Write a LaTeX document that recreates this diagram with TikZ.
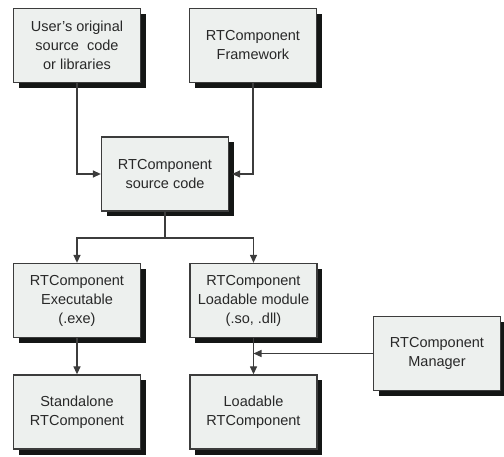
\documentclass[tikz,border=0pt]{standalone}
\usepackage{fontspec}
\setmainfont{Liberation Sans}
\usetikzlibrary{arrows.meta,shadows}
\definecolor{boxfill}{RGB}{237,240,238}
\definecolor{edge}{RGB}{60,60,60}
\definecolor{ink}{RGB}{40,40,40}
\definecolor{shade}{RGB}{20,22,21}
\tikzset{
  block/.style={draw=edge, line width=1.3pt, fill=boxfill,
    minimum width=127pt, minimum height=74pt, inner sep=2pt,
    align=center, text=ink,
    font=\fontsize{14.5}{19}\selectfont,
    drop shadow={shadow xshift=5pt, shadow yshift=-5.5pt,
      fill=shade, opacity=1}},
  link/.style={draw=edge, line width=1.3pt},
  flow/.style={link, -{Triangle[length=8pt,width=7pt]}}
}
\begin{document}
\begin{tikzpicture}[x=1pt,y=-1pt]
\useasboundingbox (0,0) rectangle (504,457);
% sources
\node[block] (user) at (77,45.5) {User's original\\source\ \ code\\or libraries};
\node[block] (fw) at (253,45.5) {RTComponent\\Framework};
\node[block] (src) at (165,174) {RTComponent\\source code};
% build products
\node[block] (exe) at (77,300.5) {RTComponent\\Executable\\(.exe)};
\node[block] (mod) at (253.5,300.5) {RTComponent\\Loadable module\\(.so, .dll)};
% runtime forms
\node[block] (alone) at (77,412) {Standalone\\RTComponent};
\node[block] (load) at (253.5,412) {Loadable\\RTComponent};
\node[block] (mgr) at (437,353.5) {RTComponent\\Manager};
% junctions
\coordinate (split) at (165,238);
\coordinate (join) at (253.5,353.5);
% connectors
\draw[flow] (user.south) |- (src.west);
\draw[flow] (fw.south) |- ([xshift=3pt]src.east);
\draw[link] (src.south) -- (split);
\draw[flow] (split) -| (exe.north);
\draw[flow] (split) -| (mod.north);
\draw[flow] (exe.south) -- (alone.north);
\draw[flow] (mod.south) -- (load.north);
\draw[flow] (mgr.west) -- (join);
\end{tikzpicture}
\end{document}
